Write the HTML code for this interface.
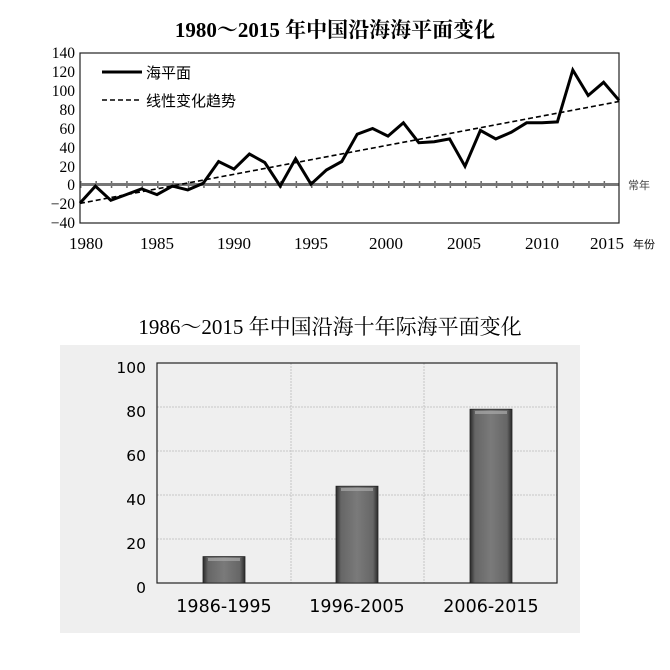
<!DOCTYPE html>
<html><head><meta charset="utf-8"><style>
body{margin:0;background:#fff;width:670px;height:670px;overflow:hidden}
svg{display:block}
</style></head><body>
<svg width="670" height="670" viewBox="0 0 670 670" xmlns="http://www.w3.org/2000/svg">
<defs>
<linearGradient id="bg" x1="0" x2="1" y1="0" y2="0">
<stop offset="0" stop-color="#2a2a2a"/><stop offset="0.12" stop-color="#666"/><stop offset="0.5" stop-color="#7a7a7a"/><stop offset="0.88" stop-color="#666"/><stop offset="1" stop-color="#2a2a2a"/>
</linearGradient>
</defs>
<text x="335" y="37" text-anchor="middle" font-family="Liberation Serif, Noto Serif CJK SC, serif" font-weight="bold" font-size="21">1980～2015 年中国沿海海平面变化</text>
<g font-family="Liberation Serif, serif" font-size="15.5" text-anchor="end">
<text x="75" y="58">140</text><text x="75" y="77">120</text><text x="75" y="96">100</text><text x="75" y="115">80</text><text x="75" y="134">60</text><text x="75" y="153">40</text><text x="75" y="172">20</text><text x="75" y="190">0</text><text x="75" y="209">−20</text><text x="75" y="228">−40</text>
</g>
<g font-family="Liberation Serif, serif" font-size="17" text-anchor="middle">
<text x="86" y="249">1980</text><text x="157" y="249">1985</text><text x="234" y="249">1990</text><text x="311" y="249">1995</text><text x="386" y="249">2000</text><text x="464" y="249">2005</text><text x="542" y="249">2010</text><text x="607" y="249">2015</text>
</g>
<text x="633" y="248" font-family="Noto Sans CJK SC, sans-serif" font-size="11">年份</text>
<text x="628" y="189" font-family="Noto Sans CJK SC, sans-serif" font-size="11" fill="#444">常年</text>
<line x1="80" y1="184.5" x2="619" y2="184.5" stroke="#777" stroke-width="3"/>
<line x1="80" y1="182" x2="619" y2="182" stroke="#666" stroke-width="2" stroke-dasharray="1.5 13.9"/>
<line x1="80" y1="187" x2="619" y2="187" stroke="#666" stroke-width="2" stroke-dasharray="1.5 13.9"/>
<rect x="80" y="53" width="539" height="170" fill="none" stroke="#222" stroke-width="1.2"/>
<line x1="80" y1="203.4" x2="619" y2="101.5" stroke="#000" stroke-width="1.6" stroke-dasharray="5 3"/>
<polyline fill="none" stroke="#000" stroke-width="3" stroke-linejoin="miter" points="80,203.1 95.4,186.1 110.8,200.3 126.2,194.6 141.6,188.9 157,194.6 172.4,186.1 187.8,189.9 203.2,183.3 218.6,161.5 234,169.1 249.4,154 264.8,162.5 280.2,186.1 295.6,158.7 311,184.2 326.4,170 341.8,161.5 357.2,134.2 372.6,128.5 388,136.1 403.4,122.8 418.8,142.7 434.2,141.7 449.6,138.9 465,166.3 480.4,130.4 495.8,138.9 511.2,132.3 526.6,122.8 542,122.8 557.4,121.9 572.8,70 588.2,95.5 603.6,82.3 619,100.3"/>
<line x1="102" y1="72" x2="142" y2="72" stroke="#000" stroke-width="3"/>
<line x1="102" y1="100" x2="142" y2="100" stroke="#000" stroke-width="1.6" stroke-dasharray="5 3"/>
<text x="146" y="78" font-family="Noto Sans CJK SC, sans-serif" font-size="15">海平面</text>
<text x="146" y="106" font-family="Noto Sans CJK SC, sans-serif" font-size="15">线性变化趋势</text>

<text x="330" y="334" text-anchor="middle" font-family="Liberation Serif, Noto Serif CJK SC, serif" font-size="21">1986～2015 年中国沿海十年际海平面变化</text>
<rect x="60" y="345" width="520" height="288" fill="#efefef"/>
<g stroke="#bbb" stroke-width="0.8" stroke-dasharray="2 1">
<line x1="157" y1="407" x2="557" y2="407"/><line x1="157" y1="451" x2="557" y2="451"/><line x1="157" y1="495" x2="557" y2="495"/><line x1="157" y1="539" x2="557" y2="539"/>
<line x1="291" y1="363" x2="291" y2="583"/><line x1="424" y1="363" x2="424" y2="583"/>
</g>
<rect x="157" y="363" width="400" height="220" fill="none" stroke="#222" stroke-width="1.2"/>
<rect x="203" y="556.6" width="42" height="26.4" fill="url(#bg)" stroke="#222" stroke-width="0.8"/>
<rect x="336" y="486.2" width="42" height="96.8" fill="url(#bg)" stroke="#222" stroke-width="0.8"/>
<rect x="470" y="409.2" width="42" height="173.8" fill="url(#bg)" stroke="#222" stroke-width="0.8"/>
<g fill="#aaa" opacity="0.7"><rect x="208" y="558" width="32" height="3"/><rect x="341" y="488" width="32" height="3"/><rect x="475" y="411" width="32" height="3"/></g>
<g font-family="DejaVu Sans, sans-serif" font-size="15.5" text-anchor="end">
<text x="146" y="373">100</text><text x="146" y="417">80</text><text x="146" y="461">60</text><text x="146" y="505">40</text><text x="146" y="549">20</text><text x="146" y="593">0</text>
</g>
<g font-family="DejaVu Sans, sans-serif" font-size="17.5" text-anchor="middle">
<text x="224" y="612">1986-1995</text><text x="357" y="612">1996-2005</text><text x="491" y="612">2006-2015</text>
</g>
</svg>
</body></html>
